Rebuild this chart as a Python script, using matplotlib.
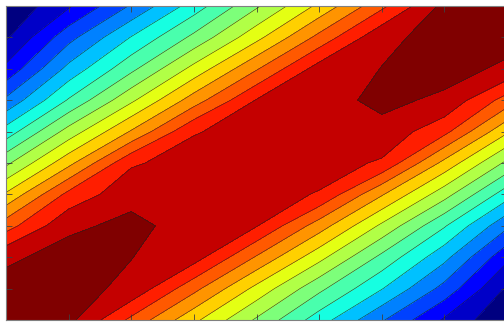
import numpy as np
import matplotlib
matplotlib.use("Agg")
import matplotlib.pyplot as plt

# grid positions (tick units) and field values
x_vals = [0, 1, 2, 3, 4, 5, 6, 7, 8]
y_vals = [0, 1, 2, 3, 4, 5, 6, 7, 8, 9, 10]

z_rows = [
    [16.6, 16.3, 13.76, 11.24, 8.85, 6.48, 4.11, 1.86, 0.1],
    [16.4, 16.3, 15.8, 13.3, 10.7, 8.25, 6.05, 3.65, 0.85],
    [15.8, 16.4, 16.02, 15.45, 12.9, 10.33, 7.74, 5.3, 2.24],
    [13.57, 15.8, 16.25, 15.6, 15.06, 12.5, 9.8, 7.1, 4.2],
    [11.15, 14.3, 15.7, 15.6, 15.4, 14.93, 12.1, 9.4, 6.43],
    [8.77, 11.7, 14.87, 15.45, 15.5, 15.45, 14.87, 11.7, 8.77],
    [6.43, 9.4, 12.1, 14.93, 15.4, 15.6, 15.7, 14.3, 11.15],
    [4.2, 7.1, 9.8, 12.5, 15.06, 15.6, 16.25, 15.8, 13.57],
    [2.24, 5.3, 7.74, 10.33, 12.9, 15.45, 16.02, 16.4, 15.8],
    [0.85, 3.65, 6.05, 8.25, 10.7, 13.3, 15.8, 16.3, 16.4],
    [0.1, 1.86, 4.11, 6.48, 8.85, 11.24, 13.76, 16.3, 16.6],
]

levels = list(range(0, 18))

X, Y = np.meshgrid(x_vals, y_vals)
Z = np.array(z_rows)

fig = plt.figure(figsize=(5.04, 3.22), dpi=100)
ax = fig.add_axes([6 / 504, 2 / 322, 501 / 504, 314 / 322])

# lowest band -> first jet colour, highest band -> last jet colour (as MATLAB does)
ax.contourf(X, Y, Z, levels=levels, cmap='jet', vmin=0.5, vmax=16.5)
ax.contour(X, Y, Z, levels=levels, colors='#202020', linewidths=0.35)

ax.set_xlim(0, 8)
ax.set_ylim(0, 10)
ax.set_xticks(x_vals)
ax.set_yticks(y_vals)
ax.tick_params(direction='in', length=4, width=0.6, color='#404040',
               top=True, right=True, labelbottom=False, labelleft=False)
for s in ax.spines.values():
    s.set_color('#808080')
    s.set_linewidth(0.8)

fig.savefig('out.png', dpi=100)
